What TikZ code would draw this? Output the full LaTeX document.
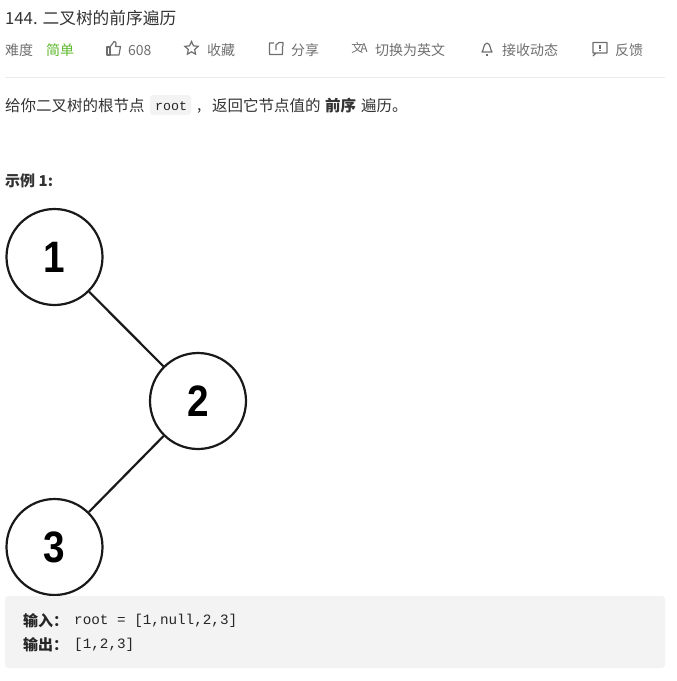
\documentclass[tikz,border=0pt]{standalone}
\usepackage{fontspec}
\setmainfont{Noto Sans CJK SC}
\newfontfamily\codefont{Liberation Mono}
\newfontfamily\digitfont[FakeStretch=0.88]{Liberation Sans}
\usepackage{xcolor}
\usetikzlibrary{shapes.geometric}
\definecolor{metagray}{HTML}{6F6F6F}
\definecolor{darktext}{HTML}{333333}
\definecolor{boxgray}{HTML}{F3F3F3}
\definecolor{easygreen}{HTML}{5CB82C}
\tikzset{
	title/.style={anchor=west, inner sep=0, text=darktext, font=\fontsize{16.7}{18}\selectfont},
	meta/.style={anchor=west, inner sep=0, text=metagray, font=\fontsize{14}{16}\selectfont},
	para/.style={anchor=west, inner sep=0, text=darktext, font=\fontsize{15.5}{18}\selectfont},
	code/.style={anchor=west, inner sep=0, text=black!85, font=\codefont\fontsize{14.3}{16}\selectfont},
	icon/.style={draw=metagray, line width=1.2pt, line join=round},
	treenode/.style={circle, draw=black!90, line width=2.2pt, fill=white, minimum size=96pt, inner sep=0, font=\digitfont\bfseries\fontsize{44}{46}\selectfont},
	treeedge/.style={draw=black!90, line width=2.2pt}
}
\begin{document}
\begin{tikzpicture}[x=1pt, y=-1pt]
	\useasboundingbox (0,0) rectangle (677,681);
	% header
	\node[title] (title) at (5,18) {144. 二叉树的前序遍历};
	\node[meta] (level) at (5,50.5) {难度};
	\node[meta, text=easygreen] (easy) at (46,50.5) {简单};
	\node[meta] (likes) at (128,50.5) {608};
	\node[meta] (star) at (207,50.5) {收藏};
	\node[meta] (share) at (291,50.5) {分享};
	\node[meta] (lang) at (375,50.5) {切换为英文};
	\node[meta] (notify) at (502,50.5) {接收动态};
	\node[meta] (report) at (615,50.5) {反馈};
	% icons
	\draw[icon] (107,47) rectangle (110,55);
	\draw[icon] (110,47) -- (113,43) -- (114,41.5) .. controls (117,41.5) and (116,45) .. (115.5,46.5) -- (120.5,46.5) -- (119,55) -- (110,55);
	\node[star, star points=5, star point ratio=2.1, draw=metagray, line width=1.2pt, inner sep=0, minimum size=14pt] (staricon) at (191.5,48.5) {};
	\draw[icon] (274,43) -- (269.5,43) -- (269.5,54.5) -- (282.5,54.5) -- (282.5,46) (279,42.5) -- (283,42.5) -- (283,46) (276,50) -- (276,45) -- (279,42.5);
	\node[anchor=center, inner sep=0, text=metagray, font=\fontsize{12}{12}\selectfont] (langicon) at (359.5,48) {文\kern-3pt A};
	\draw[icon] (482,52) .. controls (484,50) and (483,44) .. (487,43) .. controls (491,44) and (490,50) .. (492,52) -- cycle;
	\draw[icon] (486,55) -- (488,55);
	\draw[icon] (593,42.5) rectangle (607,53) (596,53) -- (593,56);
	\draw[icon] (600,45) -- (600,48.5) (600,50) -- (600,51);
	\draw[color=black!8, line width=.8pt] (5,77.5) -- (665,77.5);
	% question
	\node[para] (q1) at (5,105.5) {给你二叉树的根节点};
	\draw[fill=boxgray, draw=none, rounded corners=3pt] (150,95) rectangle (191,115);
	\node[code, font=\codefont\fontsize{13.3}{16}\selectfont] (rootcode) at (155,106) {root};
	\node[para, anchor=base west] (comma) at (197,110) {,};
	\node[para] (q2) at (212,105.5) {返回它节点值的};
	\node[para, font=\fontsize{15.5}{18}\selectfont\bfseries] (q3) at (325,105.5) {前序};
	\node[para] (q4) at (361,105.5) {遍历。};
	\node[para, font=\fontsize{15}{18}\selectfont\bfseries] (example) at (5,180.5) {示例 1:};
	% tree
	\node[treenode] (n1) at (54.5,257) {1};
	\node[treenode] (n2) at (198,401) {2};
	\node[treenode] (n3) at (54.5,547) {3};
	\draw[treeedge] (n1) -- (n2);
	\draw[treeedge] (n2) -- (n3);
	% answer box
	\draw[fill=boxgray, draw=none, rounded corners=3pt] (5,596) rectangle (665,668);
	\node[para, text=black!85, font=\fontsize{15}{18}\selectfont\bfseries] (inlabel) at (23,620.5) {输入：};
	\node[code] (input) at (74,620.5) {root = [1,null,2,3]};
	\node[para, text=black!85, font=\fontsize{15}{18}\selectfont\bfseries] (outlabel) at (23,644.5) {输出：};
	\node[code] (output) at (74,644.5) {[1,2,3]};
\end{tikzpicture}
\end{document}
